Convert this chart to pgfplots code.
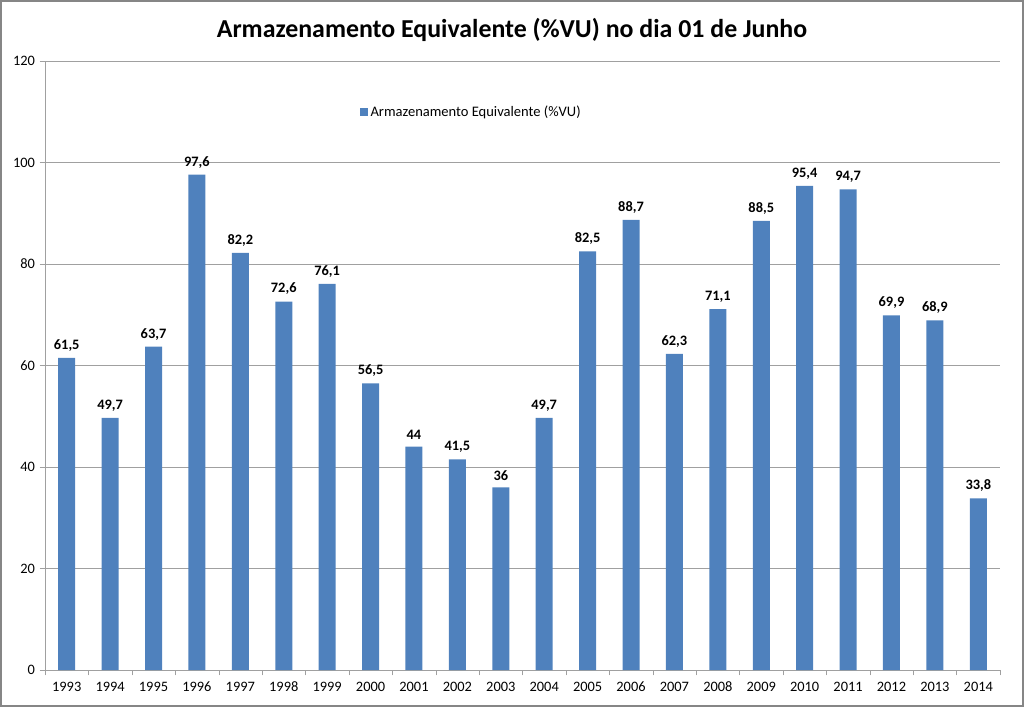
\documentclass[border=0pt]{standalone}
\usepackage{pgfplots}
\pgfplotsset{compat=1.18}
\usepackage{fontspec}
\setmainfont{Carlito}
\definecolor{barblue}{HTML}{4F81BD}
\definecolor{gridgray}{HTML}{A0A0A0}
\definecolor{bordergray}{HTML}{868686}
\begin{document}
\begin{tikzpicture}[x=1pt,y=1pt]
\draw[bordergray, line width=1.2pt] (0.6,0.6) rectangle (767.4,529.65);
\node[font=\bfseries\fontsize{19.4}{23}\selectfont] at (384,507.5) {Armazenamento Equivalente (\%VU) no dia 01 de Junho};
\begin{axis}[
  at={(33.75pt,27.75pt)}, anchor=south west,
  scale only axis, width=716.25pt, height=456.75pt,
  ybar, bar width=12.75pt,
  xmin=-0.5, xmax=21.5, ymin=0, ymax=120,
  ytick={0,20,...,120},
  xtick={0,...,21},
  xticklabels={1993,1994,1995,1996,1997,1998,1999,2000,2001,2002,2003,2004,2005,2006,2007,2008,2009,2010,2011,2012,2013,2014},
  minor xtick={-0.5,0.5,...,21.5},
  major x tick style={draw=none},
  minor x tick style={gridgray},
  y tick style={gridgray},
  tick align=outside,
  major tick length=4pt,
  minor tick length=4pt,
  axis x line*=bottom, axis y line*=left,
  axis line style={gridgray,-},
  ymajorgrids, grid style={gridgray, line width=0.6pt},
  ticklabel style={font=\fontsize{10.8}{13}\selectfont},
  /pgf/number format/assume math mode=true,
  xticklabel style={yshift=-1pt, text height=7.5pt, text depth=2pt},
  nodes near coords,
  nodes near coords style={font=\bfseries\fontsize{10.8}{13}\selectfont, /pgf/number format/use comma, /pgf/number format/assume math mode=true, yshift=1.5pt},
  legend style={at={(0.447,0.916)}, anchor=center, draw=none, fill=none, font=\fontsize{10.9}{13}\selectfont},
  legend image code/.code={\fill[barblue] (0pt,-2.8pt) rectangle (5.6pt,2.8pt);},
]
\addplot[fill=barblue, draw=none] coordinates {
(0,61.5) (1,49.7) (2,63.7) (3,97.6) (4,82.2) (5,72.6) (6,76.1) (7,56.5) (8,44) (9,41.5) (10,36)
(11,49.7) (12,82.5) (13,88.7) (14,62.3) (15,71.1) (16,88.5) (17,95.4) (18,94.7) (19,69.9) (20,68.9) (21,33.8)};
\addlegendentry{Armazenamento Equivalente (\%VU)}
\end{axis}
\end{tikzpicture}
\end{document}
